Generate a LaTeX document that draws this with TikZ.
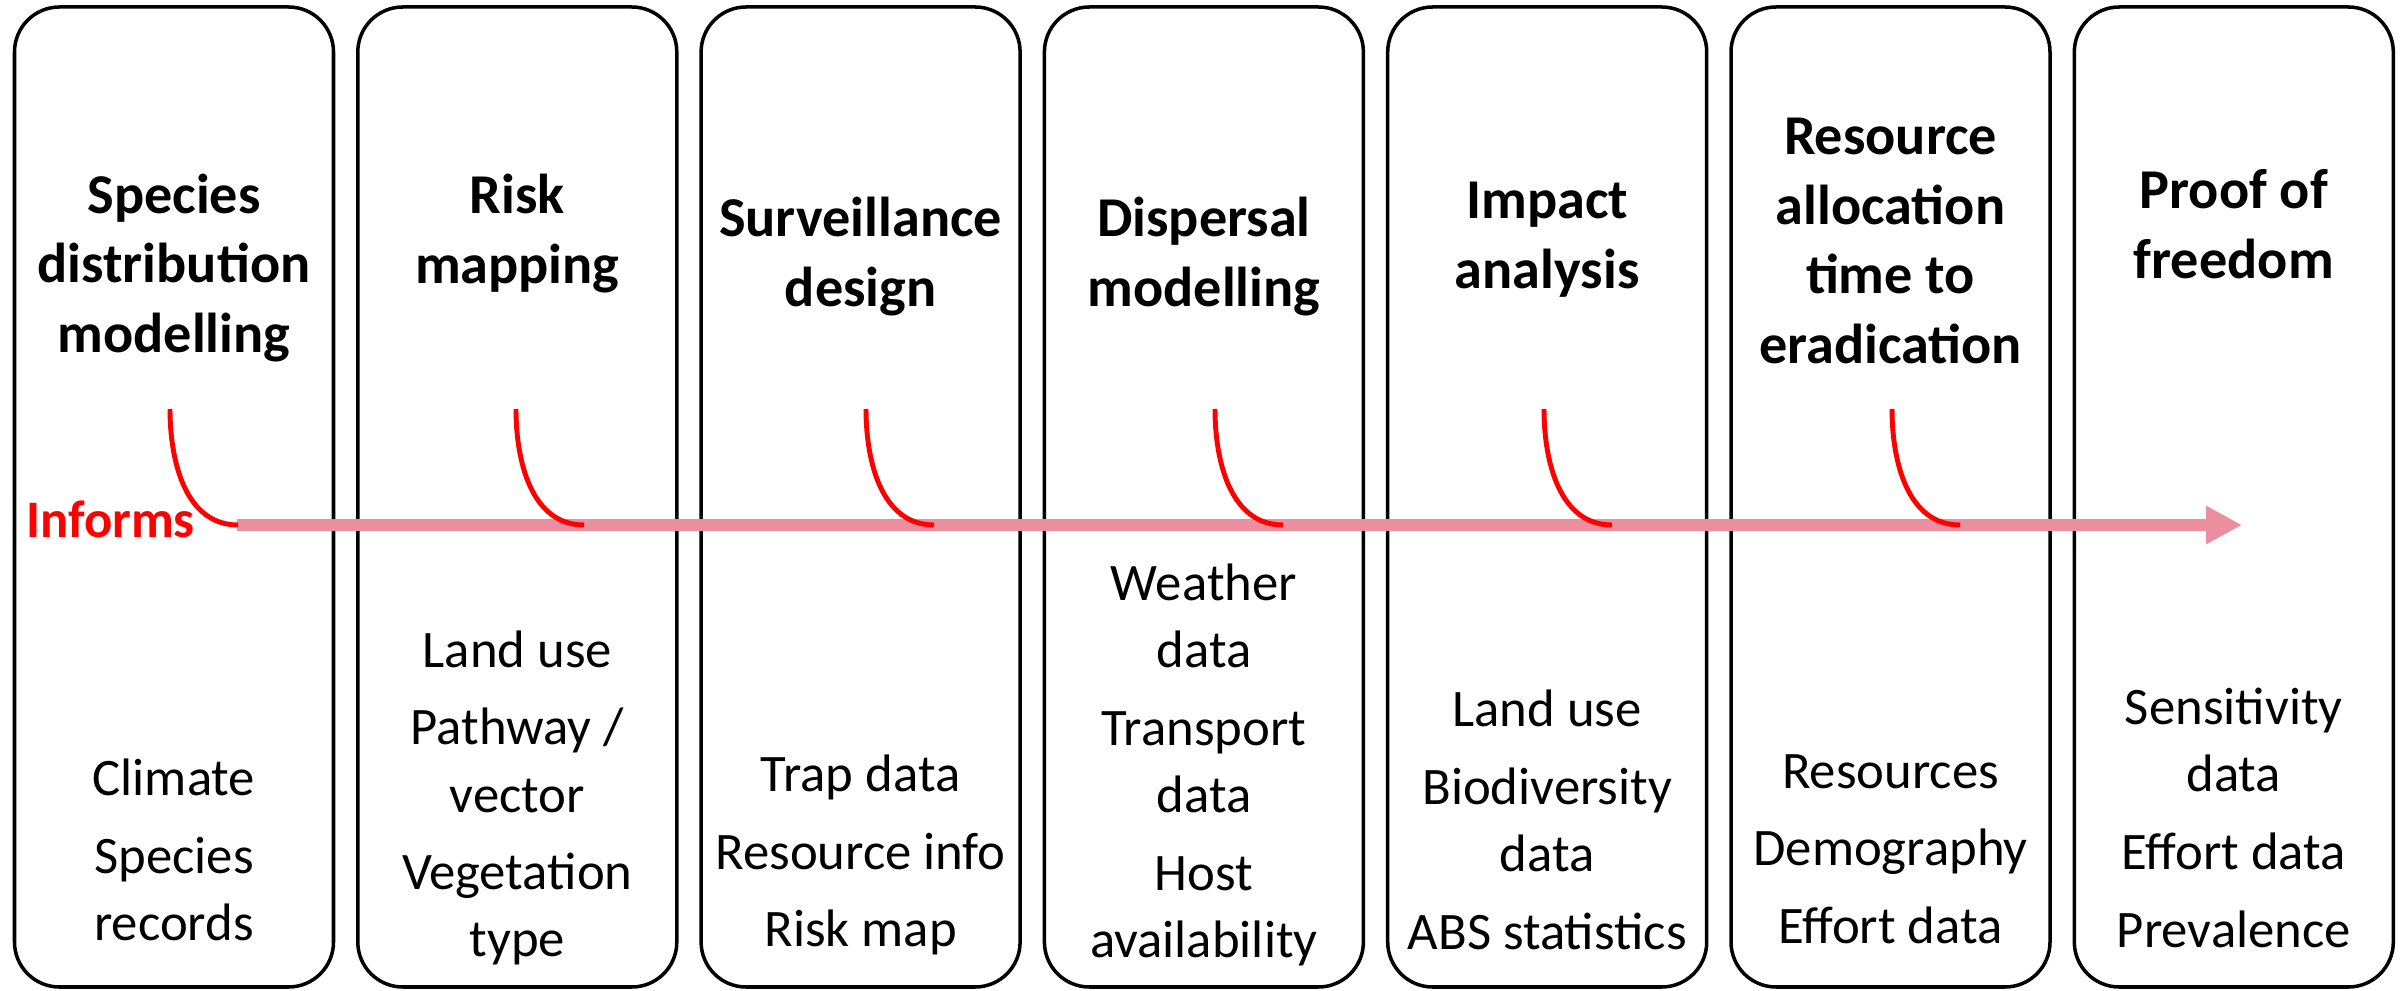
\documentclass[tikz,border=0pt]{standalone}
\usepackage{fontspec}
\setmainfont{Carlito}
\usetikzlibrary{arrows.meta}
\definecolor{arrowpink}{RGB}{234,142,160}
\tikzset{
	stage/.style={draw, line width=1pt, rounded corners=0.45cm, minimum width=3.19cm, minimum height=9.8cm, inner sep=0pt},
	stagetitle/.style={align=center, inner sep=0pt, font=\fontsize{16}{19.9}\selectfont\bfseries},
	stagedata/.style={align=center, inner sep=0pt, font=\fontsize{15}{19.1}\selectfont},
	hook/.style={red, line width=1.4pt},
	informs/.style={red, inner sep=0pt, font=\fontsize{15}{18}\selectfont\bfseries},
}
\begin{document}
\begin{tikzpicture}
		\useasboundingbox (0,0) rectangle (24.02,9.9);

		\foreach \i in {1,...,7}
		\node[stage] (box\i) at ({1.74+3.433*(\i-1)},4.93) {};

		\foreach \i/\y/\txt in {1/7.22/{Species\\distribution\\modelling}, 2/7.56/{Risk\\mapping}, 3/7.33/{Surveillance\\design}, 4/7.33/{Dispersal\\modelling}, 5/7.50/{Impact\\analysis}, 6/7.49/{Resource\\allocation\\time to\\eradication}, 7/7.66/{Proof of\\freedom}}
		\node[stagetitle] (title\i) at ({1.74+3.433*(\i-1)},\y) {\txt};

		\foreach \i/\y/\txt in {1/1.40/{Climate\\[3pt]Species\\records}, 2/1.92/{Land use\\[3pt]Pathway /\\vector\\[3pt]Vegetation\\type}, 3/1.35/{Trap data\\[3pt]Resource info\\[3pt]Risk map}, 4/2.25/{Weather\\data\\[3pt]Transport\\data\\[3pt]Host\\availability}, 5/1.70/{Land use\\[3pt]Biodiversity\\data\\[3pt]ABS statistics}, 6/1.41/{Resources\\[3pt]Demography\\[3pt]Effort data}, 7/1.72/{Sensitivity\\data\\[3pt]Effort data\\[3pt]Prevalence}}
		\node[stagedata] (data\i) at ({1.74+3.433*(\i-1)},\y) {\txt};

		% timeline
		\coordinate (arrstart) at (2.37,4.65);
		\coordinate (arrtip) at (22.42,4.65);
		\draw[arrowpink, line width=3.4pt, -{Triangle[length=0.36cm, width=0.36cm]}] (arrstart) -- (arrtip);

		\foreach \i/\hx in {1/1.70,2/5.16,3/8.66,4/12.15,5/15.44,6/18.92}
		{
		\coordinate (hk\i) at (\hx,5.81);
		\coordinate (hkend\i) at ({\hx+0.68},4.65);
		\draw[hook] (hk\i) to[out=-90, in=180] (hkend\i);
		}

		\node[informs] (informs) at (1.105,4.71) {Informs};
	\end{tikzpicture}
\end{document}
